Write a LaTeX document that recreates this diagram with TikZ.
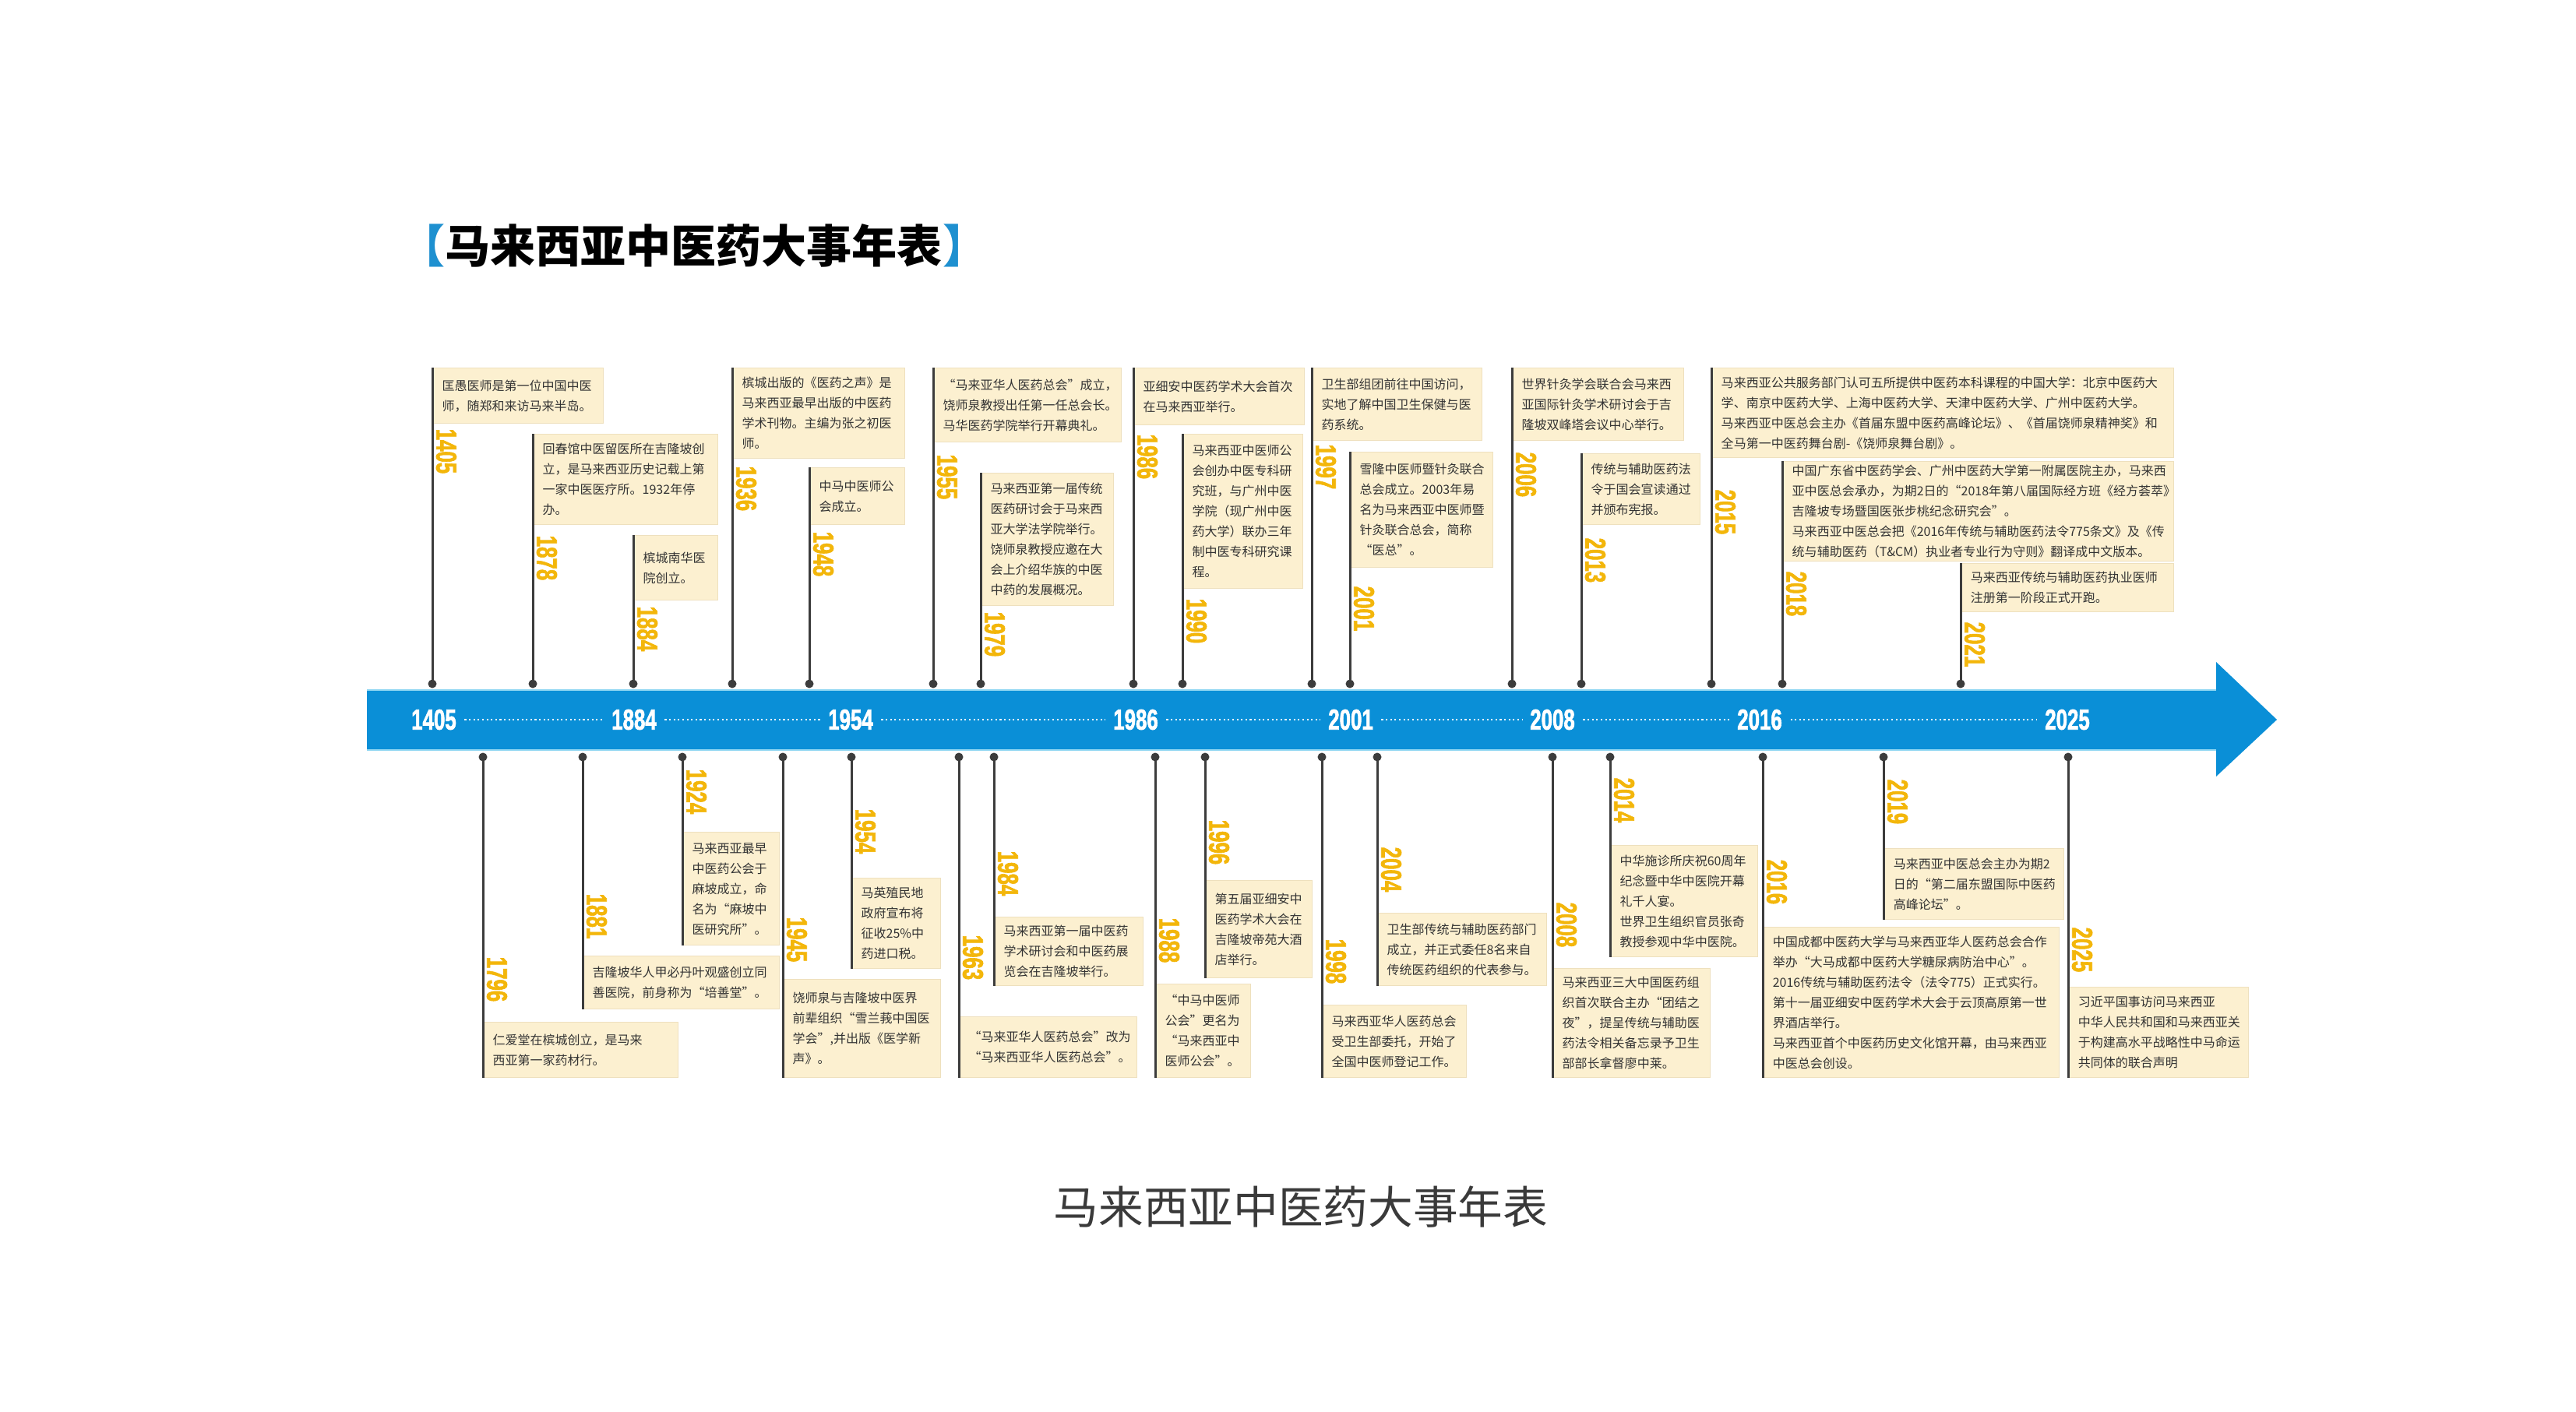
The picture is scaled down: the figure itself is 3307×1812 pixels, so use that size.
\documentclass[tikz,border=0pt]{standalone}
\usepackage{graphicx}
\usepackage{fontspec}
\setmainfont{Noto Sans CJK SC}
\newfontfamily\yearfont{Liberation Sans}[BoldFeatures={FakeBold=2.2}]
\definecolor{boxfill}{HTML}{FCF0D0}
\definecolor{boxedge}{HTML}{EEE0BE}
\definecolor{txtc}{HTML}{333333}
\definecolor{stemc}{HTML}{3C3C3C}
\definecolor{yearc}{HTML}{F3B60A}
\definecolor{bandc}{HTML}{0A8FD7}
\definecolor{bandedge}{HTML}{8FD6F2}
\definecolor{brk}{HTML}{1E90D0}
\definecolor{capc}{HTML}{3A3A3A}

\newcommand\evtop[7]{%
  \pgfmathsetmacro\evtw{(#4-#2)*0.01-0.24}%
  \pgfmathsetmacro\evmh{(#5-#3)*0.01}%
  \node[evbox, text width=\evtw cm, minimum height=\evmh cm] (b#1) at (#2,#3) {#7};
  \node[dotn] (d#1) at (#2,878) {};
  \draw[stem] (d#1.center) -- (b#1.north west);
  \node[yearlab] (y#1) at (#2+18,#6) {\scalebox{0.7}[1]{#1}};
}
\newcommand\evbot[7]{%
  \pgfmathsetmacro\evtw{(#4-#2)*0.01-0.24}%
  \pgfmathsetmacro\evmh{(#5-#3)*0.01}%
  \node[evbox, text width=\evtw cm, minimum height=\evmh cm] (b#1) at (#2,#3) {#7};
  \node[dotn] (d#1) at (#2,972) {};
  \draw[stem] (d#1.center) -- (b#1.south west);
  \node[yearlab] (y#1) at (#2+18,#6) {\scalebox{0.7}[1]{#1}};
}

\begin{document}
\begin{tikzpicture}[x=0.01cm,y=-0.01cm,
  evbox/.style={fill=boxfill, draw=boxedge, line width=0.4pt, anchor=north west,
    inner xsep=0.12cm, inner ysep=0pt, align=left, text=txtc,
    font=\fontsize{4.55pt}{7.4pt}\selectfont},
  dotn/.style={circle, fill=stemc, inner sep=0pt, minimum size=0.11cm},
  stem/.style={draw=stemc, line width=0.85pt},
  yearlab/.style={rotate=-90, anchor=west, inner sep=0pt, text=yearc,
    font=\yearfont\bfseries\fontsize{10.5pt}{10.5pt}\selectfont},
  axlab/.style={inner sep=0pt, text=white,
    font=\yearfont\bfseries\fontsize{10.5pt}{10.5pt}\selectfont},
  axdots/.style={draw=white, line width=0.7pt, dash pattern=on 0.6pt off 1.0pt,
    shorten <=0.1cm, shorten >=0.1cm}
]
\useasboundingbox (0,0) rectangle (3307,1812);
\fill[white] (0,0) rectangle (3307,1812);

% title
\node[anchor=west, inner sep=0pt, font=\bfseries\fontsize{16.5pt}{16.5pt}\selectfont] (title) at (513,315)
  {\textcolor{brk}{【}马来西亚中医药大事年表\textcolor{brk}{】}};

% band with arrow
\fill[bandc] (471,886) -- (2845,886) -- (2845,850) -- (2923,924) -- (2845,997) -- (2845,963) -- (471,963) -- cycle;
\draw[bandedge, line width=0.5pt] (471,886) -- (2845,886);
\draw[bandedge, line width=0.5pt] (471,963) -- (2845,963);

% axis labels
\node[axlab] (a1405) at (557,924) {\scalebox{0.7}[1]{1405}};
\node[axlab] (a1884) at (814,924) {\scalebox{0.7}[1]{1884}};
\node[axlab] (a1954) at (1092,924) {\scalebox{0.7}[1]{1954}};
\node[axlab] (a1986) at (1458,924) {\scalebox{0.7}[1]{1986}};
\node[axlab] (a2001) at (1734,924) {\scalebox{0.7}[1]{2001}};
\node[axlab] (a2008) at (1993,924) {\scalebox{0.7}[1]{2008}};
\node[axlab] (a2016) at (2259,924) {\scalebox{0.7}[1]{2016}};
\node[axlab] (a2025) at (2654,924) {\scalebox{0.7}[1]{2025}};
\foreach \p/\q in {1405/1884,1884/1954,1954/1986,1986/2001,2001/2008,2008/2016,2016/2025}
  \draw[axdots] (a\p.east) -- (a\q.west);

% top events
\evtop{1405}{555}{472}{774}{543}{550}{匡愚医师是第一位中国中医\\师，随郑和来访马来半岛。}
\evtop{1878}{684}{557}{921}{673}{687}{回春馆中医留医所在吉隆坡创\\立，是马来西亚历史记载上第\\一家中医医疗所。1932年停\\办。}
\evtop{1884}{813}{687}{921}{770}{778}{槟城南华医\\院创立。}
\evtop{1936}{940}{472}{1161}{588}{598}{槟城出版的《医药之声》是\\马来西亚最早出版的中医药\\学术刊物。主编为张之初医\\师。}
\evtop{1948}{1039}{600}{1161}{673}{682}{中马中医师公\\会成立。}
\evtop{1955}{1198}{472}{1439}{567}{583}{“马来亚华人医药总会”成立，\\饶师泉教授出任第一任总会长。\\马华医药学院举行开幕典礼。}
\evtop{1979}{1259}{607}{1429}{777}{785}{马来西亚第一届传统\\医药研讨会于马来西\\亚大学法学院举行。\\饶师泉教授应邀在大\\会上介绍华族的中医\\中药的发展概况。}
\evtop{1986}{1455}{472}{1674}{545}{557}{亚细安中医药学术大会首次\\在马来西亚举行。}
\evtop{1990}{1518}{557}{1672}{755}{768}{马来西亚中医师公\\会创办中医专科研\\究班，与广州中医\\学院（现广州中医\\药大学）联办三年\\制中医专科研究课\\程。}
\evtop{1997}{1684}{472}{1902}{565}{570}{卫生部组团前往中国访问，\\实地了解中国卫生保健与医\\药系统。}
\evtop{2001}{1733}{580}{1916}{728}{752}{雪隆中医师暨针灸联合\\总会成立。2003年易\\名为马来西亚中医师暨\\针灸联合总会，简称\\“医总”。}
\evtop{2006}{1941}{472}{2161}{565}{580}{世界针灸学会联合会马来西\\亚国际针灸学术研讨会于吉\\隆坡双峰塔会议中心举行。}
\evtop{2013}{2030}{582}{2182}{673}{690}{传统与辅助医药法\\令于国会宣读通过\\并颁布宪报。}
\evtop{2015}{2197}{472}{2790}{587}{628}{马来西亚公共服务部门认可五所提供中医药本科课程的中国大学：北京中医药大\\学、南京中医药大学、上海中医药大学、天津中医药大学、广州中医药大学。\\马来西亚中医总会主办《首届东盟中医药高峰论坛》、《首届饶师泉精神奖》和\\全马第一中医药舞台剧-《饶师泉舞台剧》。}
\evtop{2018}{2288}{592}{2790}{720}{733}{中国广东省中医药学会、广州中医药大学第一附属医院主办，马来西\\亚中医总会承办，为期2日的“2018年第八届国际经方班《经方荟萃》\\吉隆坡专场暨国医张步桃纪念研究会”。\\马来西亚中医总会把《2016年传统与辅助医药法令775条文》及《传\\统与辅助医药（T\&CM）执业者专业行为守则》翻译成中文版本。}
\evtop{2021}{2517}{723}{2790}{785}{798}{马来西亚传统与辅助医药执业医师\\注册第一阶段正式开跑。}

% bottom events
\evbot{1796}{620}{1312}{870}{1383}{1228}{仁爱堂在槟城创立，是马来\\西亚第一家药材行。}
\evbot{1881}{748}{1227}{1000}{1295}{1147}{吉隆坡华人甲必丹叶观盛创立同\\善医院，前身称为“培善堂”。}
\evbot{1924}{876}{1068}{1000}{1213}{987}{马来西亚最早\\中医药公会于\\麻坡成立，命\\名为“麻坡中\\医研究所”。}
\evbot{1945}{1005}{1257}{1207}{1383}{1177}{饶师泉与吉隆坡中医界\\前辈组织“雪兰莪中国医\\学会”,并出版《医学新\\声》。}
\evbot{1954}{1093}{1127}{1207}{1243}{1038}{马英殖民地\\政府宣布将\\征收25\%中\\药进口税。}
\evbot{1963}{1231}{1305}{1459}{1383}{1200}{“马来亚华人医药总会”改为\\“马来西亚华人医药总会”。}
\evbot{1984}{1276}{1177}{1467}{1265}{1092}{马来西亚第一届中医药\\学术研讨会和中医药展\\览会在吉隆坡举行。}
\evbot{1988}{1483}{1263}{1605}{1383}{1178}{“中马中医师\\公会”更名为\\“马来西亚中\\医师公会”。}
\evbot{1996}{1547}{1130}{1684}{1255}{1052}{第五届亚细安中\\医药学术大会在\\吉隆坡帝苑大酒\\店举行。}
\evbot{1998}{1697}{1290}{1882}{1383}{1205}{马来西亚华人医药总会\\受卫生部委托，开始了\\全国中医师登记工作。}
\evbot{2004}{1768}{1172}{1985}{1265}{1087}{卫生部传统与辅助医药部门\\成立，并正式委任8名来自\\传统医药组织的代表参与。}
\evbot{2008}{1993}{1243}{2195}{1383}{1158}{马来西亚三大中国医药组\\织首次联合主办“团结之\\夜”，提呈传统与辅助医\\药法令相关备忘录予卫生\\部部长拿督廖中莱。}
\evbot{2014}{2067}{1085}{2256}{1228}{998}{中华施诊所庆祝60周年\\纪念暨中华中医院开幕\\礼千人宴。\\世界卫生组织官员张奇\\教授参观中华中医院。}
\evbot{2016}{2263}{1190}{2643}{1383}{1103}{中国成都中医药大学与马来西亚华人医药总会合作\\举办“大马成都中医药大学糖尿病防治中心”。\\2016传统与辅助医药法令（法令775）正式实行。\\第十一届亚细安中医药学术大会于云顶高原第一世\\界酒店举行。\\马来西亚首个中医药历史文化馆开幕，由马来西亚\\中医总会创设。}
\evbot{2019}{2418}{1089}{2649}{1180}{1000}{马来西亚中医总会主办为期2\\日的“第二届东盟国际中医药\\高峰论坛”。}
\evbot{2025}{2655}{1267}{2886}{1383}{1190}{习近平国事访问马来西亚\\中华人民共和国和马来西亚关\\于构建高水平战略性中马命运\\共同体的联合声明}

% caption
\node[inner sep=0pt, text=capc, font=\fontsize{16.4pt}{16.4pt}\selectfont] (caption) at (1670,1550) {马来西亚中医药大事年表};
\end{tikzpicture}
\end{document}
